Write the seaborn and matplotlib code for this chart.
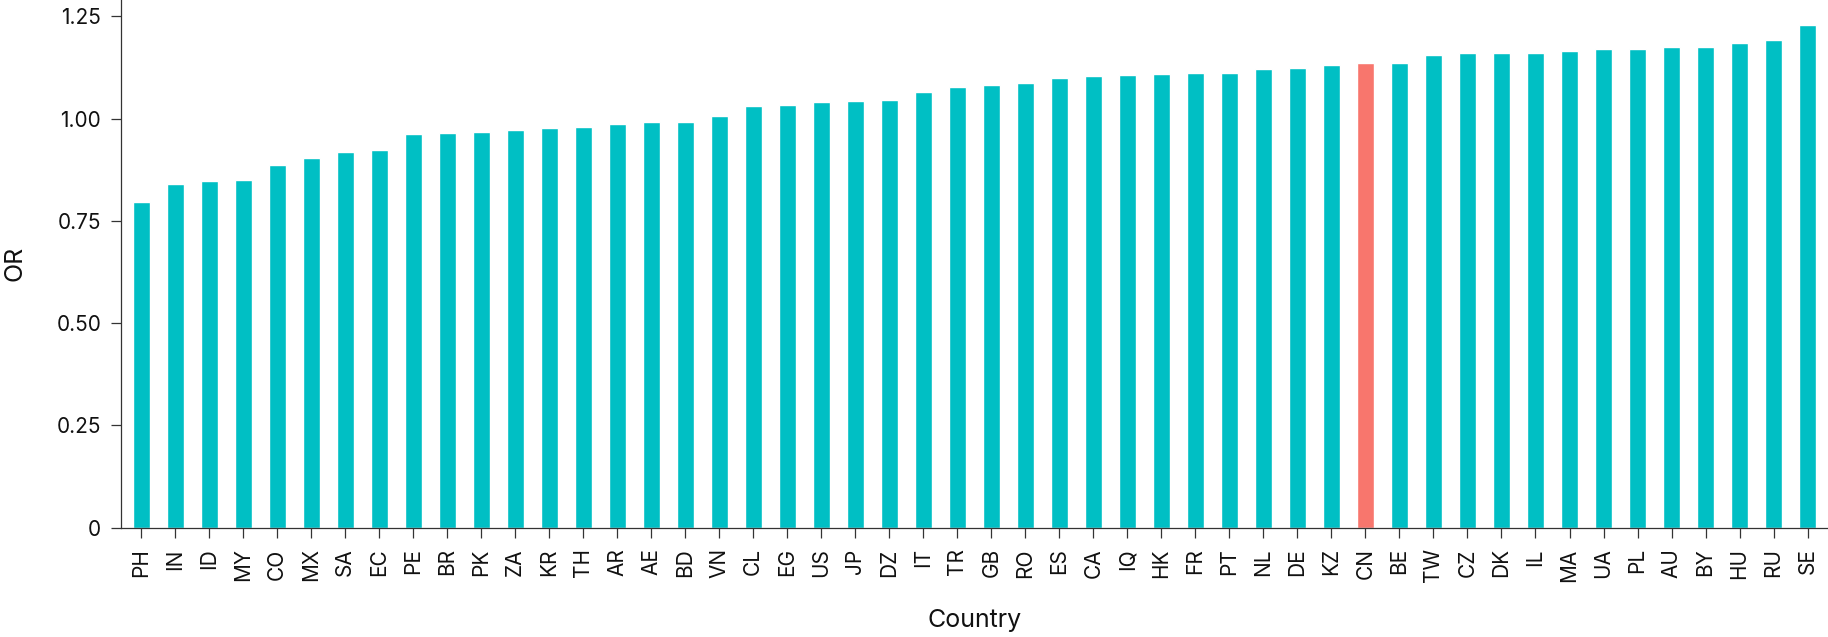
import matplotlib
matplotlib.use("Agg")
import matplotlib.pyplot as plt
import seaborn as sns
import pandas as pd

countries = ["PH", "IN", "ID", "MY", "CO", "MX", "SA", "EC", "PE", "BR",
             "PK", "ZA", "KR", "TH", "AR", "AE", "BD", "VN", "CL", "EG",
             "US", "JP", "DZ", "IT", "TR", "GB", "RO", "ES", "CA", "IQ",
             "HK", "FR", "PT", "NL", "DE", "KZ", "CN", "BE", "TW", "CZ",
             "DK", "IL", "MA", "UA", "PL", "AU", "BY", "HU", "RU", "SE"]
odds_ratio = [0.796, 0.841, 0.847, 0.849, 0.886, 0.904, 0.919, 0.923, 0.963, 0.964,
              0.967, 0.973, 0.977, 0.980, 0.987, 0.991, 0.991, 1.006, 1.031, 1.034,
              1.041, 1.044, 1.045, 1.064, 1.077, 1.081, 1.086, 1.099, 1.104, 1.107,
              1.110, 1.112, 1.112, 1.122, 1.124, 1.130, 1.136, 1.137, 1.155, 1.160,
              1.160, 1.161, 1.165, 1.171, 1.171, 1.176, 1.176, 1.184, 1.191, 1.229]
highlight = "CN"
y_ticks = [0, 0.25, 0.50, 0.75, 1.00, 1.25]
y_tick_labels = ["0", "0.25", "0.50", "0.75", "1.00", "1.25"]

TEAL = "#00BFC4"
RED = "#F8766D"

df = pd.DataFrame({"Country": countries, "OR": odds_ratio})
palette = {c: (RED if c == highlight else TEAL) for c in countries}

sns.set_theme(style="ticks")
plt.rcParams["font.family"] = ["Inter", "DejaVu Sans"]

fig = plt.figure(figsize=(18.28, 6.37), dpi=100)
ax = fig.add_axes([120.6 / 1828, 1 - 527.5 / 637, (1828 - 120.6) / 1828, 527.5 / 637])

sns.barplot(data=df, x="Country", y="OR", hue="Country", palette=palette,
            width=0.5, saturation=1, legend=False, ax=ax, order=countries)

ax.set_xlim(-0.6, len(countries) - 1 + 0.6)
ax.set_ylim(0, 1.29)
ax.set_yticks(y_ticks)
ax.set_yticklabels(y_tick_labels)

for s in ["top", "right"]:
    ax.spines[s].set_visible(False)
for s in ["left", "bottom"]:
    ax.spines[s].set_color("#333333")
    ax.spines[s].set_linewidth(0.9)

ax.tick_params(axis="both", length=7, width=0.9, color="#333333",
               labelsize=15, labelcolor="#111111", pad=7)
ax.tick_params(axis="x", rotation=90, pad=8)

ax.set_xlabel("Country", fontsize=18, color="#111111")
ax.set_ylabel("OR", fontsize=18, color="#111111")
ax.xaxis.label.set_verticalalignment("center")
ax.yaxis.label.set_verticalalignment("center")
ax.xaxis.set_label_coords(0.5, -(620 - 527.5) / 527.5)
ax.yaxis.set_label_coords(-(120.6 - 14.7) / (1828 - 120.6), 0.5)

fig.savefig("out.png", dpi=100)
